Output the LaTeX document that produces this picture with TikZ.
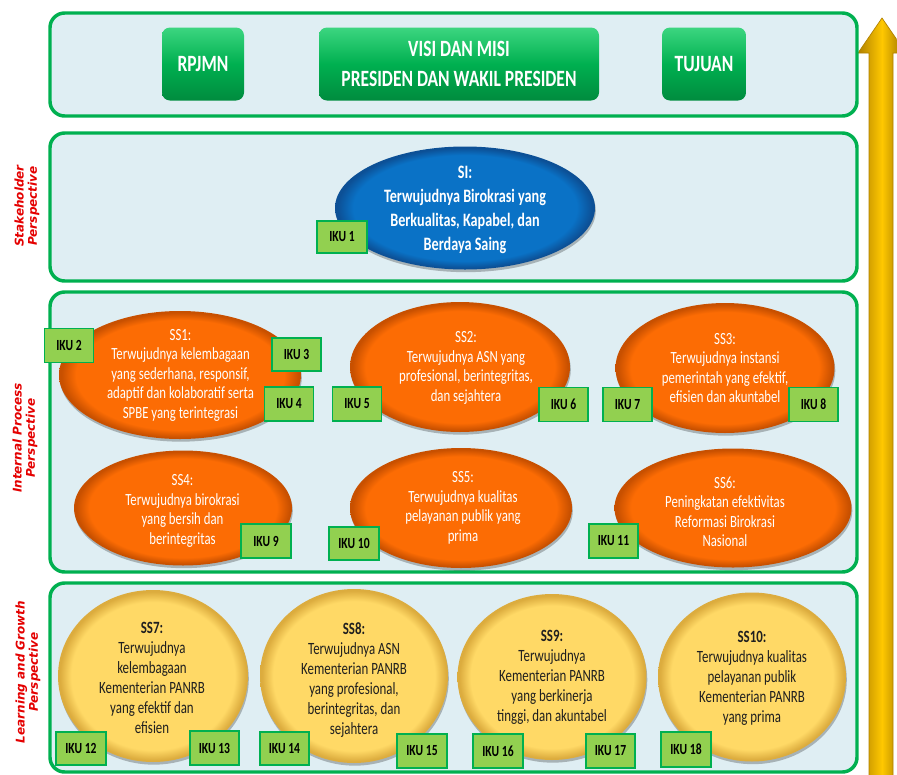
\documentclass[tikz,border=0pt]{standalone}
\usepackage{fontspec}
\setmainfont{Carlito}[FakeStretch=0.75]
\newfontfamily\labfont{DejaVu Sans}
\usetikzlibrary{shapes.geometric,shadows}

\definecolor{pgreen}{RGB}{0,176,80}
\definecolor{pgreenL}{RGB}{60,214,128}
\definecolor{pgreenD}{RGB}{0,140,62}
\definecolor{pfill}{RGB}{223,238,243}
\definecolor{ikufill}{RGB}{146,208,80}
\definecolor{orangeA}{RGB}{252,108,4}
\definecolor{orangeB}{RGB}{200,80,0}
\definecolor{blueA}{RGB}{10,114,198}
\definecolor{blueB}{RGB}{12,80,150}
\definecolor{yelA}{RGB}{255,217,102}
\definecolor{yelB}{RGB}{220,172,62}
\definecolor{goldA}{RGB}{255,200,0}
\definecolor{goldB}{RGB}{176,128,0}
\definecolor{labred}{RGB}{228,0,0}

\pgfdeclareradialshading{orangebevel}{\pgfpoint{0bp}{0bp}}{color(0bp)=(orangeA); color(21.5bp)=(orangeA); color(24.5bp)=(orangeB); color(25bp)=(orangeB); color(50bp)=(orangeB)}
\pgfdeclareradialshading{bluebevel}{\pgfpoint{0bp}{0bp}}{color(0bp)=(blueA); color(21.5bp)=(blueA); color(24.5bp)=(blueB); color(25bp)=(blueB); color(50bp)=(blueB)}
\pgfdeclareradialshading{yelbevel}{\pgfpoint{0bp}{0bp}}{color(0bp)=(yelA); color(21.5bp)=(yelA); color(24.5bp)=(yelB); color(25bp)=(yelB); color(50bp)=(yelB)}

\tikzset{
  sz/.style 2 args={minimum width=#1*0.75pt, minimum height=#2*0.75pt},
  panel/.style={draw=pgreen, fill=pfill, line width=2.6pt, rounded corners=11pt},
  topbox/.style={rounded corners=6pt, top color=pgreenL, bottom color=pgreenD, middle color=pgreen,
    inner sep=0pt, text=white, align=center, font=\bfseries\fontsize{17.5}{20}\selectfont},
  ellbase/.style={ellipse, inner sep=0pt, draw=none,
    drop shadow={shadow xshift=0.6pt, shadow yshift=-2pt, opacity=0.25, fill=black}},
  orangeell/.style={ellbase, shading=orangebevel},
  blueell/.style={ellbase, shading=bluebevel},
  yelell/.style={ellbase, shading=yelbevel},
  otxt/.style={text=white, align=center, inner sep=0pt, font=\fontsize{12.8}{14.6}\selectfont},
  sitxt/.style={text=white, align=center, inner sep=0pt, font=\bfseries\fontsize{14.2}{18}\selectfont},
  ytxt/.style={text=black!88, align=center, inner sep=0pt, font=\fontsize{12.9}{15}\selectfont},
  iku/.style={draw=pgreen, fill=ikufill, line width=1.1pt, inner sep=0pt, text=black,
    font=\bfseries\fontsize{11.6}{13}\selectfont, sz={49}{34}},
  persp/.style={rotate=90, text=labred, align=center, inner sep=0pt,
    font=\labfont\bfseries\itshape\fontsize{9}{10}\selectfont},
  arrowst/.style={left color=goldB, right color=goldB!85!black, middle color=goldA, draw=goldB, line width=0.5pt}
}

\begin{document}
\begin{tikzpicture}[x=0.75pt, y=-0.75pt]
\useasboundingbox (0,0) rectangle (897,775);

% upward arrow
\path[arrowst] (882,18) -- (906,53) -- (893,53) -- (893,790) -- (869,790) -- (869,53) -- (858,53) -- cycle;

% panels
\draw[panel] (50,13) rectangle (857,116);
\draw[panel] (50,133) rectangle (857,281);
\draw[panel] (50,292) rectangle (857,572);
\draw[panel] (50,583) rectangle (857,772);

% perspective labels
\node[persp] (lab1) at (27,206) {Stakeholder\\Perspective};
\node[persp] (lab2) at (25,438) {Internal Process\\Perspective};
\node[persp] (lab3) at (28,672) {Learning and Growth\\Perspective};

% top boxes
\node[topbox, sz={82}{73}] (rpjmn) at (203,64) {RPJMN};
\node[topbox, sz={280}{73}] (visi) at (459,64) {VISI DAN MISI\\[3pt]PRESIDEN DAN WAKIL PRESIDEN};
\node[topbox, sz={84}{73}] (tujuan) at (704,64) {TUJUAN};

% stakeholder
\node[blueell, sz={260}{123}] (si) at (465,208) {};
\node[sitxt] (sit) at (465,210) {SI:\\Terwujudnya Birokrasi yang\\Berkualitas, Kapabel, dan\\Berdaya Saing};

% internal process row 1
\node[orangeell, sz={242}{128}] (ss1) at (180,375) {};
\node[otxt] (ss1t) at (180.5,375) {SS1:\\Terwujudnya kelembagaan\\yang sederhana, responsif,\\adaptif dan kolaboratif serta\\SPBE yang terintegrasi};
\node[orangeell, sz={220}{130}] (ss2) at (460,367) {};
\node[otxt] (ss2t) at (466,368) {SS2:\\Terwujudnya ASN yang\\profesional, berintegritas,\\dan sejahtera};
\node[orangeell, sz={219}{130}] (ss3) at (725,368) {};
\node[otxt] (ss3t) at (725,368) {SS3:\\Terwujudnya instansi\\pemerintah yang efektif,\\efisien dan akuntabel};

% internal process row 2
\node[orangeell, sz={218}{115}] (ss4) at (183,508) {};
\node[otxt] (ss4t) at (182.5,511) {SS4:\\Terwujudnya birokrasi\\yang bersih dan\\berintegritas};
\node[orangeell, sz={222}{120}] (ss5) at (461,508) {};
\node[otxt] (ss5t) at (463,508) {SS5:\\Terwujudnya kualitas\\pelayanan publik yang\\prima};
\node[orangeell, sz={237}{119}] (ss6) at (733,508) {};
\node[otxt] (ss6t) at (725,512) {SS6:\\Peningkatan efektivitas\\Reformasi Birokrasi\\Nasional};

% learning and growth
\node[yelell, sz={190}{172}] (ss7) at (153,676) {};
\node[ytxt] (ss7t) at (152,678) {\bfseries SS7:\\Terwujudnya\\kelembagaan\\Kementerian PANRB\\yang efektif dan\\efisien};
\node[yelell, sz={188}{174}] (ss8) at (354,676) {};
\node[ytxt] (ss8t) at (354,680) {\bfseries SS8:\\Terwujudnya ASN\\Kementerian PANRB\\yang profesional,\\berintegritas, dan\\sejahtera};
\node[yelell, sz={189}{166}] (ss9) at (552,677) {};
\node[ytxt] (ss9t) at (552,677) {\bfseries SS9:\\Terwujudnya\\Kementerian PANRB\\yang berkinerja\\tinggi, dan akuntabel};
\node[yelell, sz={188}{169}] (ss10) at (752,677) {};
\node[ytxt] (ss10t) at (752,678) {\bfseries SS10:\\Terwujudnya kualitas\\pelayanan publik\\Kementerian PANRB\\yang prima};

% IKU boxes
\node[iku, sz={50}{32}] (iku1) at (342,237) {IKU 1};
\node[iku] (iku2) at (69,345.5) {IKU 2};
\node[iku, sz={49}{33}] (iku3) at (296.5,354.5) {IKU 3};
\node[iku] (iku4) at (289,404) {IKU 4};
\node[iku] (iku5) at (357,404) {IKU 5};
\node[iku] (iku6) at (563.5,404.5) {IKU 6};
\node[iku] (iku7) at (627.5,404.5) {IKU 7};
\node[iku] (iku8) at (813.5,404.5) {IKU 8};
\node[iku, sz={50}{34}] (iku9) at (266,541) {IKU 9};
\node[iku, sz={50}{33}] (iku10) at (354,543.5) {IKU 10};
\node[iku] (iku11) at (613.5,541) {IKU 11};
\node[iku, sz={50}{33}] (iku12) at (81,748.5) {IKU 12};
\node[iku] (iku13) at (214.5,748) {IKU 13};
\node[iku, sz={49}{33}] (iku14) at (284.5,748.5) {IKU 14};
\node[iku, sz={50}{34}] (iku15) at (422,751) {IKU 15};
\node[iku, sz={50}{34}] (iku16) at (498,751) {IKU 16};
\node[iku] (iku17) at (610.5,751) {IKU 17};
\node[iku, sz={50}{35}] (iku18) at (686,749.5) {IKU 18};
\end{tikzpicture}
\end{document}
